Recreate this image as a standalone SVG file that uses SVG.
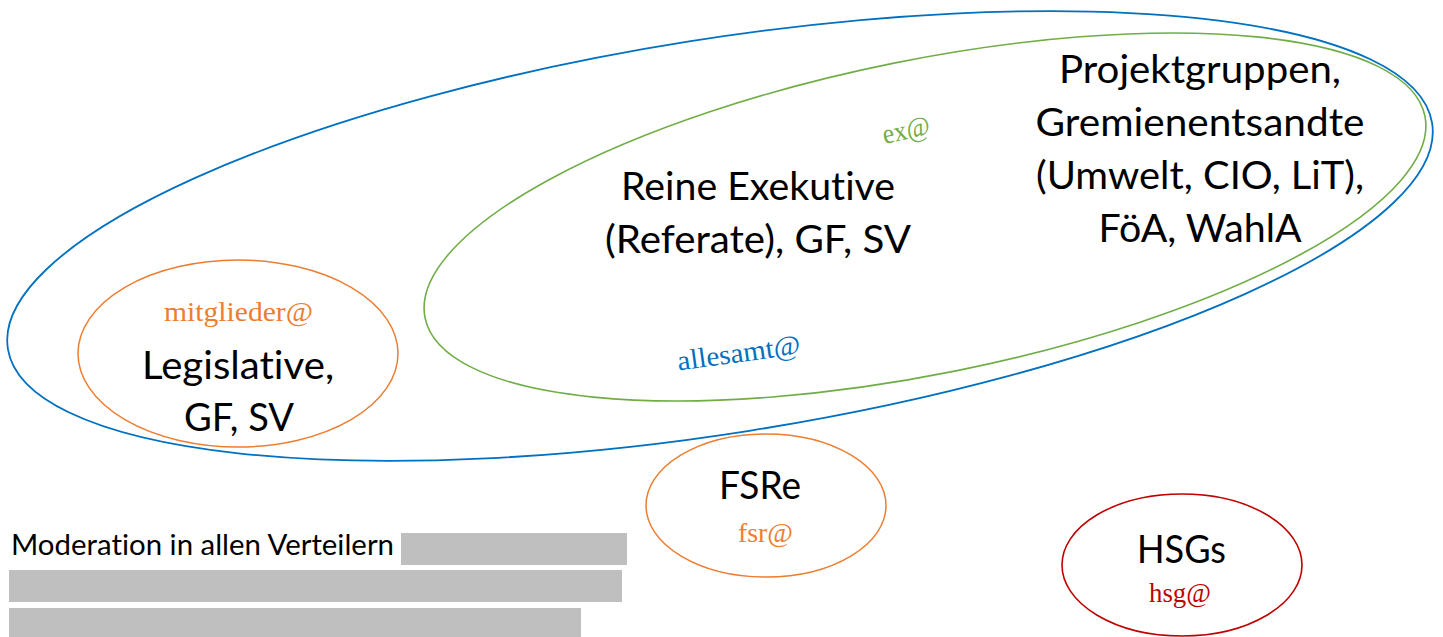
<svg xmlns="http://www.w3.org/2000/svg" width="1443" height="637" viewBox="0 0 1443 637">
<style>
.ell{fill:none;}
.blue{stroke:#0070C0;stroke-width:1.8;}
.green{stroke:#70AD47;stroke-width:1.6;}
.orange{stroke:#ED7D31;stroke-width:1.5;}
.red{stroke:#C00000;stroke-width:1.6;}
text{font-variant-ligatures:none;font-feature-settings:"liga" 0,"clig" 0;}
.big{font-family:Lato,"Open Sans","Liberation Sans",sans-serif;font-size:38.3px;fill:#000;text-anchor:middle;}
.mod{font-family:Lato,"Open Sans","Liberation Sans",sans-serif;font-size:28px;fill:#000;}
.lbl{font-family:"Liberation Serif","DejaVu Serif",serif;font-size:28px;text-anchor:middle;}
.bar{fill:#BFBFBF;}
</style>
<rect width="1443" height="637" fill="#FFFFFF"/>
<g id="allesamt">
<ellipse class="ell blue" cx="720" cy="236" rx="721" ry="197" transform="rotate(-9 720 236)"/>
<text class="lbl" x="740" y="362" fill="#0070C0" textLength="124" lengthAdjust="spacingAndGlyphs" transform="rotate(-7.8 740 362)">allesamt@</text>
</g>
<g id="exekutive">
<ellipse class="ell green" cx="925" cy="217" rx="510" ry="157" transform="rotate(-11.4 925 217)"/>
<text class="lbl" x="908" y="139" fill="#70AD47" textLength="48" lengthAdjust="spacingAndGlyphs" transform="rotate(-12 908 139)">ex@</text>
<text class="big" x="758" y="200" textLength="274" lengthAdjust="spacingAndGlyphs">Reine Exekutive</text>
<text class="big" x="758" y="253" textLength="306" lengthAdjust="spacingAndGlyphs">(Referate), GF, SV</text>
</g>
<g id="projektgruppen">
<text class="big" x="1200" y="83" textLength="282" lengthAdjust="spacingAndGlyphs">Projektgruppen,</text>
<text class="big" x="1200" y="136" textLength="329" lengthAdjust="spacingAndGlyphs">Gremienentsandte</text>
<text class="big" x="1200" y="188.5" textLength="328" lengthAdjust="spacingAndGlyphs">(Umwelt, CIO, LiT),</text>
<text class="big" x="1200" y="241.5" textLength="203" lengthAdjust="spacingAndGlyphs">FöA, WahlA</text>
</g>
<g id="legislative">
<ellipse class="ell orange" cx="238" cy="353.5" rx="160" ry="93.5"/>
<text class="lbl" x="238.5" y="321" fill="#ED7D31" textLength="149" lengthAdjust="spacingAndGlyphs">mitglieder@</text>
<text class="big" x="238" y="379" textLength="192" lengthAdjust="spacingAndGlyphs">Legislative,</text>
<text class="big" x="239" y="431" textLength="110" lengthAdjust="spacingAndGlyphs">GF, SV</text>
</g>
<g id="fsre">
<ellipse class="ell orange" cx="766" cy="505.5" rx="120" ry="71.5"/>
<text class="big" x="760" y="499" textLength="82" lengthAdjust="spacingAndGlyphs">FSRe</text>
<text class="lbl" x="765.5" y="542" fill="#ED7D31" textLength="55" lengthAdjust="spacingAndGlyphs">fsr@</text>
</g>
<g id="hsgs">
<ellipse class="ell red" cx="1182" cy="565" rx="120" ry="71"/>
<text class="big" x="1181.5" y="563" textLength="89" lengthAdjust="spacingAndGlyphs">HSGs</text>
<text class="lbl" x="1180" y="602" fill="#C00000" textLength="62" lengthAdjust="spacingAndGlyphs">hsg@</text>
</g>
<g id="moderation">
<text class="mod" x="11" y="555" textLength="383" lengthAdjust="spacingAndGlyphs">Moderation in allen Verteilern</text>
<rect class="bar" x="401" y="533" width="226" height="32"/>
<rect class="bar" x="9" y="570" width="613" height="32"/>
<rect class="bar" x="9" y="608" width="572" height="29"/>
</g>
<g id="connectors"/>
</svg>
